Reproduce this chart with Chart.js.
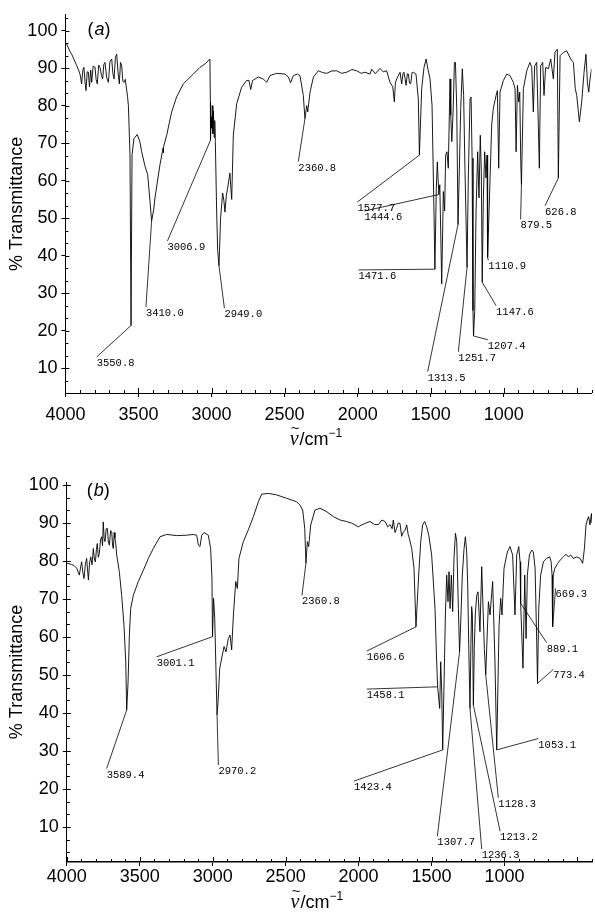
<!DOCTYPE html>
<html lang="en">
<head>
<meta charset="UTF-8"/>
<title>IR spectra (a) and (b)</title>
<script src="https://cdn.jsdelivr.net/npm/chart.js"></script>
<style>
  body { margin:0; background:#fff; }
  .panel { position:absolute; left:0; width:595px; }
  #wrapA { top:0; height:455px; }
  #wrapB { top:455px; height:464px; }
</style>
</head>
<body>
<div id="wrapA" class="panel"><canvas id="specA" width="595" height="455"></canvas></div>
<div id="wrapB" class="panel"><canvas id="specB" width="595" height="464"></canvas></div>

<script>
// ---- data (wavenumber / cm-1, % transmittance) ----
const specA = [
  [4000,96.6],[3991,96.4],[3970,94.5],[3957,93.7],[3940,92.2],[3923,90.7],[3910,89.5],[3900,88.4],
  [3889,85.8],[3880,89.6],[3873,90.2],[3866,86.5],[3859,84],[3851,89],[3843,88.9],[3835,85],
  [3827,89.5],[3820,86.2],[3810,90.5],[3797,90.2],[3790,87],[3782,85.8],[3772,90.8],[3763,90.2],
  [3753,88],[3745,87.1],[3737,91],[3729,91.5],[3718,87.5],[3706,86.2],[3695,91.8],[3683,92.4],
  [3675,88.5],[3667,87.1],[3658,92.8],[3649,93.7],[3640,89],[3631,85.8],[3623,91.5],[3615,90.7],
  [3607,86.5],[3599,86.2],[3590,87],[3585,85.4],[3575,82.5],[3569,80.1],[3558,66.9],[3550.8,21.4],
  [3544,66.9],[3531,71.2],[3508,72.3],[3490,70.3],[3478,67.7],[3455,63.8],[3437,61.6],[3421,54.5],
  [3410,49.2],[3395,52.5],[3387,55.4],[3353,64.2],[3332,68.6],[3330,67.4],[3327,69],[3307,72.1],
  [3273,78.3],[3239,82.3],[3193,85.8],[3159,87.1],[3125,88.4],[3079,90.2],[3045,91.1],[3011,92.4],
  [3008,81],[3006.9,70.8],[3003,77],[2999,74],[2995,80],[2991,72.5],[2987,78.5],[2982,71.5],
  [2978,76],[2974,70.4],[2965,51.9],[2958,41.3],[2949,37.3],[2938,50.1],[2924,56.7],[2915,54.5],
  [2908,51.6],[2899,56],[2890,58],[2874,62],[2868,58],[2862,55],[2851,72.1],[2828,80.5],
  [2794,84.9],[2760,86.7],[2744,86.7],[2732,84.3],[2719,86.7],[2680,87.6],[2646,87.1],[2623,86.2],
  [2600,88],[2554,88.6],[2497,88.4],[2474,87.6],[2459,86.1],[2440,88],[2413,88.4],[2395,88],
  [2372,82.7],[2360.8,76.5],[2349,80],[2342,78.3],[2326,83.6],[2303,87.6],[2269,89.3],[2240,88.8],
  [2212,88.6],[2180,89.2],[2144,89.3],[2110,88.6],[2075,88.9],[2040,89.6],[2007,89.3],[1975,88.6],
  [1950,88.9],[1916,88.4],[1904,89.7],[1880,88.5],[1847,89.9],[1825,89],[1802,89.3],[1779,86.2],
  [1760,85],[1749,81],[1742,86],[1733,87.1],[1710,88.9],[1699,85.8],[1690,88.5],[1683,88.9],
  [1675,87],[1669,85.4],[1660,88.5],[1653,88.4],[1645,86],[1637,85.8],[1628,88.8],[1619,88.9],
  [1601,88.4],[1585,81.8],[1577.7,66.8],[1562,84.5],[1546,90.2],[1532,92.4],[1519,89.7],[1505,87.1],
  [1491,80],[1478,51.9],[1471.6,36.4],[1462,58],[1455,65],[1444.6,56.3],[1438,58.9],[1425,32.5],
  [1414,57.1],[1405,51.9],[1398,66.8],[1389,67.7],[1380,63.3],[1368,87.1],[1363,77.4],[1356,70.4],
  [1347,78.3],[1338,91.5],[1331,91.5],[1322,79.2],[1313.5,48.3],[1304,63.3],[1295,79.2],[1284,89.8],
  [1275,82.7],[1266,63.3],[1251.7,36.9],[1243,60.7],[1231,81.8],[1224,82.3],[1217,66],[1211,25.4],
  [1207.4,18.6],[1199,25.4],[1190,51.9],[1179,67.7],[1170,55.4],[1161,72.1],[1154,62.4],[1147.6,32.9],
  [1140,55.4],[1131,67.7],[1122,60.7],[1115,66.8],[1110.9,39.5],[1094,60.7],[1083,74.8],[1072,79.2],
  [1053,82.7],[1044,84],[1035,63.3],[1026,83.6],[1003,86.7],[980,88.4],[958,88],[935,86.2],
  [923,84.5],[916,67.7],[907,85.4],[898,81],[891,83.6],[884,65.1],[879.5,58.9],[866,84.5],
  [843,89.3],[821,91.5],[809,90.2],[798,78.3],[789,90.6],[775,91.5],[766,78.3],[757,63.3],
  [748,90.6],[734,91.5],[725,82.7],[714,90.2],[695,89.8],[679,92.4],[661,87.1],[650,94.2],
  [634,95],[626.8,60.7],[615,93.3],[592,94.2],[570,94.6],[542,92.4],[524,91.5],[511,84.5],
  [501,82.7],[483,75.7],[467,81],[451,88.9],[438,93.7],[428,86.2],[419,83.6],[410,87.1],[400,89.7]
];

const specB = [
  [4000,79.4],[3985,79.3],[3967,79.1],[3950,78.8],[3932,78.1],[3914,76.3],[3905,78.5],[3898,79.8],
  [3890,77],[3882,75.4],[3873,79],[3864,80.7],[3852,75],[3844,79.5],[3836,81.1],[3827,79],
  [3818,83.3],[3811,80.5],[3804,79.8],[3797,83],[3791,84.6],[3784,81],[3777,82],[3769,85.5],
  [3761,86.4],[3755,84],[3750,90.3],[3744,86],[3738,85.1],[3730,88.5],[3722,88.6],[3715,85],
  [3708,84.2],[3700,88],[3692,87.7],[3686,84],[3681,83.3],[3675,87.5],[3670,86],[3664,84.5],
  [3658,81.6],[3640,77.2],[3624,71],[3608,63.1],[3596,53.5],[3589.4,40.8],[3580,48.2],[3571,60.5],
  [3562,67.5],[3544,71],[3510,74.6],[3475,77.6],[3441,80.7],[3407,83.3],[3361,86.4],[3315,87],
  [3247,86.7],[3178,86.8],[3133,87],[3110,86.8],[3098,84.2],[3087,83.8],[3075,86.8],[3060,87.5],
  [3030,86.8],[3014,83.3],[3005,75.4],[3001.1,60.1],[2994,70.2],[2986,64.9],[2978,52],[2970.2,39.5],
  [2963,43],[2952,51.7],[2934,55.3],[2922,57.5],[2909,56.1],[2893,59.6],[2881,60.5],[2870,56.6],
  [2858,65.8],[2842,74.6],[2831,72.8],[2820,80.7],[2790,85.1],[2756,88.2],[2721,91.7],[2687,95.6],
  [2664,97.6],[2618,97.8],[2561,97.4],[2493,96.5],[2424,95.6],[2401,94.7],[2383,93.4],[2369,88.6],
  [2360.8,79.4],[2351,85.1],[2342,83.8],[2328,89.5],[2299,93.4],[2264,93.9],[2219,93],[2173,91.7],
  [2127,90.8],[2082,90.4],[2050,90],[2024,89.5],[2002,89],[1979,89.5],[1950,90],[1922,90.4],
  [1890,89.6],[1864,89.6],[1840,90.8],[1819,90.4],[1800,89],[1784,89.6],[1770,88.5],[1762,90.8],
  [1750,87.5],[1739,88.6],[1728,90],[1716,89.9],[1705,86.5],[1693,87.7],[1682,88],[1670,89.5],
  [1660,87],[1652,86],[1636,83.3],[1620,78.1],[1606.6,62.7],[1588,76.3],[1574,85.1],[1561,89.5],
  [1547,90.4],[1533,89],[1519,86.8],[1499,81.6],[1476,67.5],[1466,55],[1458.1,46.9],[1444,41.2],
  [1437,53.5],[1430,45.6],[1423.4,30.3],[1414,48.2],[1405,65.8],[1396,76.3],[1387,69.3],[1380,77.2],
  [1373,67.5],[1364,76.3],[1355,66.7],[1346,80.7],[1336,87.3],[1327,85.1],[1316,67.5],[1307.7,56.1],
  [1298,65.8],[1289,76.3],[1277,83.3],[1268,86.4],[1259,82.4],[1252,73.7],[1244,56],[1236.3,41.2],
  [1230,58],[1225,68],[1220,66],[1213.2,42.1],[1207,57],[1200,65.8],[1190,71],[1181,71.9],
  [1168,61.4],[1156,78.5],[1138,57],[1128.3,50],[1110,69.3],[1099,65.8],[1081,74.6],[1065,53.5],
  [1053.1,30.3],[1037,63.1],[1026,70.2],[1017,65.8],[1003,78.1],[980,82.4],[962,83.8],[944,81.6],
  [928,65.8],[916,81.6],[902,83.8],[893,79.8],[889.1,68.9],[873,51.8],[861,76.3],[852,59.6],
  [843,76.3],[829,81.6],[813,82.9],[802,82.4],[790,78.1],[779,58.8],[773.4,47.8],[765,67.5],
  [752,76.3],[733,79.8],[711,80.7],[690,81.1],[680,79.8],[674,76.3],[671,69.3],[669.3,62.7],
  [666,76.3],[655,78.1],[635,79.4],[612,80.5],[596,81.1],[578,81.8],[562,81.1],[546,81.6],
  [528,80.7],[505,81.1],[482,80.7],[464,79.4],[452,83.3],[441,89.5],[432,90.8],[423,91.7],
  [414,89.5],[404,92.5],[400,90]
];

// labelled bands: [wavenumber, %T at the band]
const peaksA = [[3550.8,21.4],[3410.0,49.2],[3006.9,70.8],[2949.0,37.3],[2360.8,76.5],[1577.7,66.8],
  [1444.6,56.3],[1471.6,36.4],[1313.5,48.3],[1251.7,36.9],[1207.4,18.6],[1147.6,32.9],[1110.9,39.5],
  [879.5,58.9],[626.8,60.7]];
// where each leader line ends (top-left of its label), in data units
const tagEndA = [[3786,13.0],[3449,26.3],[3302,43.9],[2912,26.0],[2406,65.1],[2002,54.3],
  [1954,51.9],[1995,36.2],[1521,9.1],[1311,14.4],[1110,17.6],[1053,26.7],[1106,38.8],
  [885,49.7],[718,53.3]];

const peaksB = [[3589.4,40.8],[3001.1,60.1],[2970.2,39.5],[2360.8,79.4],[1606.6,62.7],[1458.1,46.9],
  [1423.4,30.3],[1307.7,56.1],[1236.3,41.2],[1213.2,42.1],[1128.3,50.0],[1053.1,30.3],[889.1,68.9],
  [773.4,47.8],[669.3,62.7]];
const tagEndB = [[3727,25.4],[3384,54.8],[2961,26.3],[2388,71.0],[1944,56.3],[1944,46.3],
  [2031,22.1],[1460,7.6],[1156,4.2],[1030,8.9],[1042,17.7],[768,33.3],[711,58.5],
  [665,51.5],[650,72.8]];

const xTicks = [4000, 3500, 3000, 2500, 2000, 1500, 1000];
const yTicks = [10, 20, 30, 40, 50, 60, 70, 80, 90, 100];

// ---- drawing helpers ----
const SANS = '"Liberation Sans", Arial, sans-serif';

const decor = {
  id: 'decor',
  afterDraw(chart, args, o) {
    const { ctx, chartArea: a, scales: { x, y } } = chart;
    ctx.save();
    ctx.strokeStyle = '#000';
    ctx.lineWidth = 1;

    // minor ticks, pointing into the plot
    ctx.beginPath();
    for (let w = 400; w <= 4000; w += 100) {
      const px = Math.round(x.getPixelForValue(w)) + 0.5;
      const len = w % 500 === 0 ? 5 : 3;
      ctx.moveTo(px, a.bottom); ctx.lineTo(px, a.bottom - len);
    }
    for (let k = 1; k <= 31; k++) {
      const v = k * 10 / 3;
      if (v < y.min || v > y.max) continue;
      const py = Math.round(y.getPixelForValue(v)) + 0.5;
      ctx.moveTo(a.left, py); ctx.lineTo(a.left + (k % 3 === 0 ? 4 : 3), py);
    }
    ctx.stroke();

    // leader lines and band labels
    ctx.lineWidth = 0.8;
    ctx.font = '10.5px "Liberation Mono", "DejaVu Sans Mono", monospace';
    ctx.fillStyle = '#000';
    ctx.textAlign = 'left';
    ctx.textBaseline = 'top';
    o.peaks.forEach(([w, t], i) => {
      const [lw, lt] = o.ends[i];
      const x0 = x.getPixelForValue(w), y0 = y.getPixelForValue(t);
      const x1 = x.getPixelForValue(lw), y1 = y.getPixelForValue(lt);
      ctx.beginPath(); ctx.moveTo(x0, y0); ctx.lineTo(x1, y1); ctx.stroke();
      ctx.fillText(w.toFixed(1), x1, y1 + 1);
    });

    // panel tag: (a) / (b)
    ctx.textBaseline = 'middle';
    let tx = a.left + o.tagDx;
    const ty = a.top + o.tagDy;
    [['(', '18px ' + SANS], [o.tag, 'italic 18px ' + SANS], [')', '18px ' + SANS]].forEach(([s, f]) => {
      ctx.font = f; ctx.fillText(s, tx, ty); tx += ctx.measureText(s).width + (s === '(' ? 1 : 0);
    });

    // x-axis title: nu-tilde / cm^-1
    const parts = [['\u03BD', 'italic 20px "Liberation Serif", serif', 0],
                   ['/cm', '18px ' + SANS, 0],
                   ['\u22121', '12px ' + SANS, -8]];
    let total = 0;
    parts.forEach(p => { ctx.font = p[1]; p.push(ctx.measureText(p[0]).width); total += p[3]; });
    let cx = (a.left + a.right) / 2 - 13 - total / 2;
    const by = a.bottom + o.titleGap;
    ctx.textBaseline = 'alphabetic';
    parts.forEach(([s, f, dy, wd], i) => {
      ctx.font = f; ctx.fillText(s, cx, by + dy);
      if (i === 0) {
        ctx.font = '15px ' + SANS; ctx.textAlign = 'center';
        ctx.fillText('~', cx + wd / 2 + 1, by - 12);
        ctx.textAlign = 'left';
      }
      cx += wd + (i === 0 ? 1 : 0);
    });
    ctx.restore();
  }
};

function makeSpectrum(id, spec, peaks, ends, cfg) {
  return new Chart(document.getElementById(id), {
    type: 'line',
    data: {
      datasets: [{
        data: spec.map(([w, t]) => ({ x: w, y: t })),
        borderColor: '#000',
        borderWidth: 0.9,
        pointRadius: 0,
        tension: 0,
        fill: false
      }]
    },
    options: {
      responsive: false,
      animation: false,
      layout: { padding: { left: 0, right: cfg.padRight, top: cfg.padTop, bottom: 0 } },
      plugins: {
        legend: { display: false },
        tooltip: { enabled: false },
        decor: { peaks, ends, tag: cfg.tag, tagDx: cfg.tagDx, tagDy: cfg.tagDy, titleGap: cfg.titleGap }
      },
      scales: {
        x: {
          type: 'linear', reverse: true, min: 400, max: 4000,
          afterBuildTicks: s => { s.ticks = xTicks.map(v => ({ value: v })); },
          afterFit: s => { s.height = cfg.xHeight; },
          grid: { display: true, drawOnChartArea: false, drawTicks: true, tickLength: 4, color: '#000' },
          border: { display: true, color: '#000', width: cfg.xBorder },
          ticks: { color: '#000', font: { family: SANS, size: 18 }, padding: cfg.xPad, maxRotation: 0,
                   callback: v => String(v) }
        },
        y: {
          type: 'linear', min: cfg.yMin, max: cfg.yMax,
          afterBuildTicks: s => { s.ticks = yTicks.map(v => ({ value: v })); },
          afterFit: s => { s.width = cfg.yWidth; },
          grid: { display: true, drawOnChartArea: false, drawTicks: true, tickLength: 4, color: '#000' },
          border: { display: true, color: '#000', width: 1 },
          ticks: { color: '#000', font: { family: SANS, size: 18 }, padding: 4, callback: v => String(v) },
          title: { display: true, text: '% Transmittance', color: '#000',
                   font: { family: SANS, size: 18 }, padding: { top: 6, bottom: 0 } }
        }
      }
    },
    plugins: [decor]
  });
}

makeSpectrum('specA', specA, peaksA, tagEndA, {
  tag: 'a', tagDx: 22, tagDy: 15, titleGap: 52,
  padRight: 3.5, padTop: 12, xHeight: 62, yWidth: 65.4, xPad: 7, xBorder: 1,
  yMin: 3.4, yMax: 104.2
});
makeSpectrum('specB', specB, peaksB, tagEndB, {
  tag: 'b', tagDx: 20, tagDy: 9, titleGap: 46,
  padRight: 3, padTop: 27, xHeight: 57, yWidth: 66.8, xPad: 0, xBorder: 1.5,
  yMin: 0.8, yMax: 100.8
});
</script>
</body>
</html>
